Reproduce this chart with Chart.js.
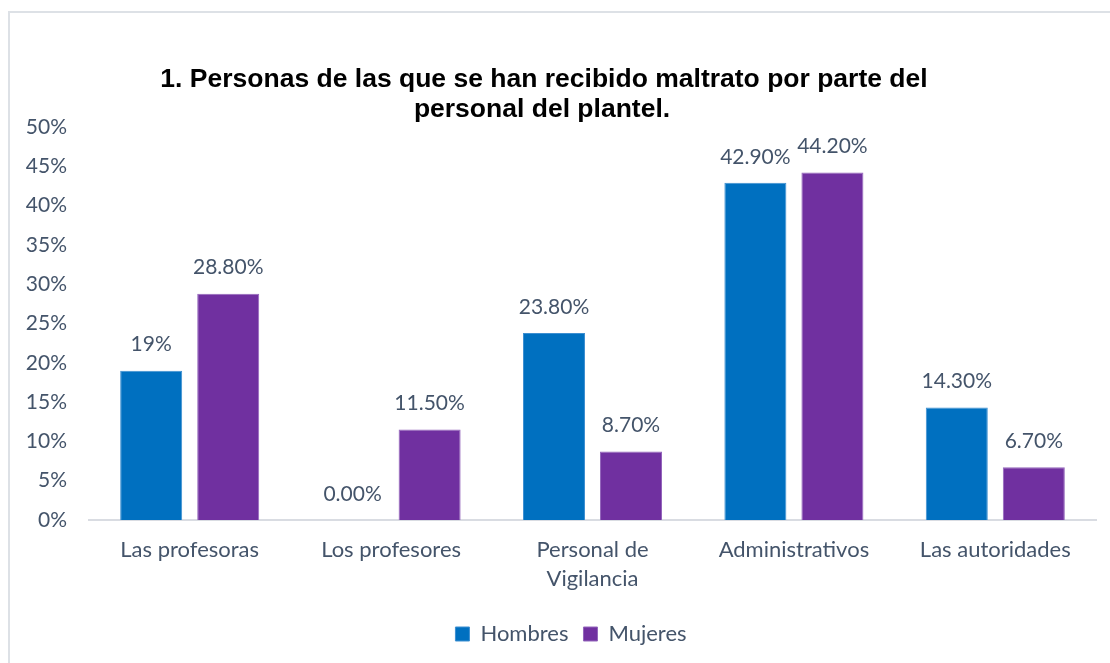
<!DOCTYPE html>
<html>
<head>
<meta charset="utf-8">
<script src="https://cdn.jsdelivr.net/npm/chart.js@4.4.1/dist/chart.umd.min.js"></script>
<style>
  html, body { margin: 0; padding: 0; background: #ffffff; width: 1110px; height: 663px; overflow: hidden; }
  #frame { position: absolute; left: 8px; top: 11px; width: 1200px; height: 800px; border-left: 2px solid #DDE1E6; border-top: 2px solid #DDE1E6; }
  #c { position: absolute; left: 0; top: 0; }
</style>
</head>
<body>
<div id="frame"></div>
<canvas id="c" width="1110" height="663"></canvas>
<script>
const titleLines = ["1. Personas de las que se han recibido maltrato por parte del", "personal del plantel."];
const categories = ["Las profesoras", "Los profesores", ["Personal de", "Vigilancia"], "Administrativos", "Las autoridades"];
const seriesNames = ["Hombres", "Mujeres"];
const hombres = [19, 0, 23.8, 42.9, 14.3];
const mujeres = [28.8, 11.5, 8.7, 44.2, 6.7];
const hombresLabels = ["19%", "0.00%", "23.80%", "42.90%", "14.30%"];
const mujeresLabels = ["28.80%", "11.50%", "8.70%", "44.20%", "6.70%"];
const yTicks = [0, 5, 10, 15, 20, 25, 30, 35, 40, 45, 50];

const TEXT = "#44546A";
const FONT = "Lato";

const titlePlugin = {
  id: "customTitle",
  afterDraw(chart) {
    const ctx = chart.ctx;
    ctx.save();
    ctx.fillStyle = "#000000";
    ctx.font = "bold 26.5px 'Liberation Sans', Arial, sans-serif";
    ctx.textAlign = "center";
    ctx.textBaseline = "alphabetic";
    ctx.fillText(titleLines[0], 544, 87);
    ctx.fillText(titleLines[1], 542, 117);
    ctx.restore();
  }
};

const legendShift = {
  id: "legendShift",
  afterLayout(chart) {
    const lg = chart.legend;
    if (lg) { lg.left += 23; lg.right += 23; }
  }
};

const labelPlugin = {
  id: "barLabels",
  afterDatasetsDraw(chart) {
    const ctx = chart.ctx;
    const labelSets = [hombresLabels, mujeresLabels];
    ctx.save();
    ctx.fillStyle = TEXT;
    ctx.font = "21px " + FONT;
    ctx.textAlign = "center";
    ctx.textBaseline = "middle";
    chart.data.datasets.forEach((ds, di) => {
      const meta = chart.getDatasetMeta(di);
      meta.data.forEach((bar, i) => {
        ctx.fillText(labelSets[di][i], bar.x, bar.y - 26);
      });
    });
    ctx.restore();
  }
};

new Chart(document.getElementById("c"), {
  type: "bar",
  data: {
    labels: categories,
    datasets: [
      { label: seriesNames[0], data: hombres, backgroundColor: "#0070C0", borderColor: "#3D8FD1", borderWidth: 1, borderSkipped: "bottom" },
      { label: seriesNames[1], data: mujeres, backgroundColor: "#7030A0", borderColor: "#9466BC", borderWidth: 1, borderSkipped: "bottom" }
    ]
  },
  options: {
    responsive: false,
    animation: false,
    devicePixelRatio: 1,
    layout: { padding: { left: 0, right: 14, top: 127, bottom: 8 } },
    datasets: { bar: { categoryPercentage: 0.765, barPercentage: 0.805 } },
    plugins: {
      title: { display: false },
      tooltip: { enabled: false },
      legend: {
        position: "bottom",
        labels: {
          color: TEXT,
          font: { family: FONT, size: 22 },
          boxWidth: 14,
          boxHeight: 14,
          padding: 15
        }
      }
    },
    scales: {
      x: {
        grid: { display: false, drawTicks: false },
        border: { display: true, color: "#D9DCE2", width: 2 },
        ticks: { color: TEXT, font: { family: FONT, size: 22, lineHeight: 1.32 }, padding: 15, maxRotation: 0, autoSkip: false },
        afterFit(scale) { scale.height = 88; }
      },
      y: {
        min: 0,
        max: 50,
        grid: { display: false, drawTicks: false },
        border: { display: false },
        afterBuildTicks(scale) { scale.ticks = yTicks.map(v => ({ value: v })); },
        ticks: { color: TEXT, font: { family: FONT, size: 21 }, padding: 22, callback: v => v + "%" },
        afterFit(scale) { scale.width = 89; }
      }
    }
  },
  plugins: [titlePlugin, labelPlugin, legendShift]
});
</script>
</body>
</html>
